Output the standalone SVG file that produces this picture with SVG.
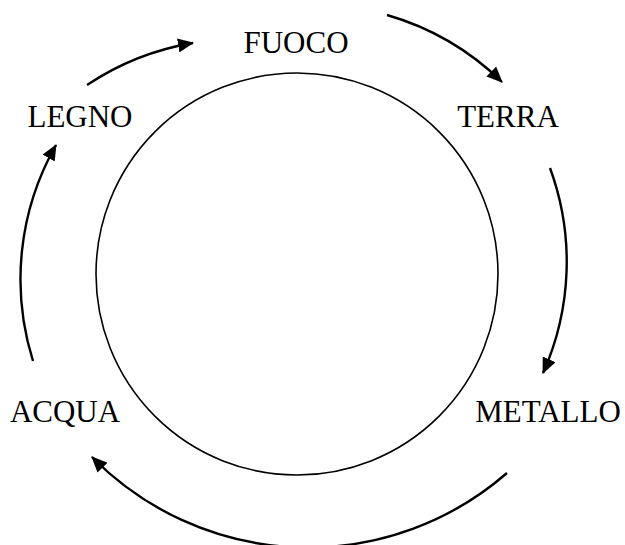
<svg xmlns="http://www.w3.org/2000/svg" width="625" height="545" viewBox="0 0 625 545">
<style>
.lbl{font-family:"Liberation Serif","Times New Roman",serif;font-size:31px;fill:#000;text-anchor:middle}
.arr{fill:none;stroke:#000;stroke-width:2.4;marker-end:url(#ah)}
</style>
<defs>
<marker id="ah" viewBox="0 0 16 14" refX="15" refY="7" markerWidth="16" markerHeight="14" markerUnits="userSpaceOnUse" orient="auto">
<path d="M0,0 L16,7 L0,14 z" fill="#000"/>
</marker>
</defs>
<rect width="625" height="545" fill="#fff"/>
<g id="center-circle">
<ellipse cx="297" cy="274" rx="201" ry="201" fill="none" stroke="#000" stroke-width="1.6"/>
</g>
<g id="fuoco"><text class="lbl" x="296" y="53">FUOCO</text></g>
<g id="terra"><text class="lbl" x="508" y="127">TERRA</text></g>
<g id="metallo"><text class="lbl" x="548" y="422">METALLO</text></g>
<g id="acqua"><text class="lbl" x="65" y="422">ACQUA</text></g>
<g id="legno"><text class="lbl" x="80" y="127">LEGNO</text></g>
<g id="connectors">
<path class="arr" d="M87,85 A272,272 0 0 1 193,43"/>
<path class="arr" d="M387,15 A272,272 0 0 1 502,82"/>
<path class="arr" d="M550,168 A272,272 0 0 1 543,373"/>
<path class="arr" d="M507,473 A303,303 0 0 1 92,457"/>
<path class="arr" d="M33,361 A272,272 0 0 1 56,145"/>
</g>
</svg>
